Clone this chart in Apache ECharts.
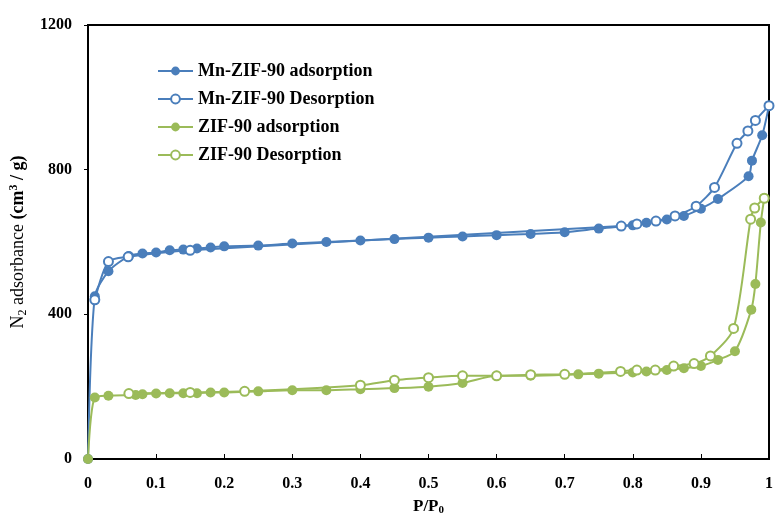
<!DOCTYPE html>
<html>
<head>
<meta charset="utf-8">
<script src="https://cdn.jsdelivr.net/npm/echarts@6/dist/echarts.min.js"></script>
<style>
  html, body { margin: 0; padding: 0; background: #fff; }
  #chart { width: 776px; height: 521px; }
</style>
</head>
<body>
<div id="chart"></div>
<script>
// N2 isotherms: relative pressure P/P0 and uptake (cm3/g)
const mnAdsP = [0, 0.01, 0.03, 0.06, 0.08, 0.10, 0.12, 0.14, 0.16, 0.18, 0.20, 0.25, 0.30, 0.35, 0.40, 0.45, 0.50, 0.55, 0.60, 0.65, 0.70, 0.75, 0.80, 0.82, 0.85, 0.875, 0.90, 0.925, 0.97, 0.975, 0.99, 1.0];
const mnAdsV = [0, 450, 519, 561, 568, 571, 577, 579, 582, 585, 588, 590, 596, 600, 604, 608, 612, 615, 619, 622, 627, 637, 646, 653, 662, 672, 692, 719, 782, 825, 895, 977];

const mnDesP = [1.0, 0.98, 0.969, 0.953, 0.92, 0.893, 0.862, 0.834, 0.806, 0.783, 0.15, 0.059, 0.03, 0.01];
const mnDesV = [977, 936, 907, 873, 751, 699, 672, 658, 650, 644, 577, 559, 546, 440];

const zifAdsP = [0, 0.01, 0.03, 0.07, 0.08, 0.10, 0.12, 0.14, 0.16, 0.18, 0.20, 0.25, 0.30, 0.35, 0.40, 0.45, 0.50, 0.55, 0.60, 0.65, 0.72, 0.75, 0.80, 0.82, 0.85, 0.875, 0.90, 0.925, 0.95, 0.974, 0.98, 0.988, 0.993];
const zifAdsV = [0, 170, 175, 177, 179, 181, 182, 182, 182, 184, 184, 187, 190, 190, 193, 196, 200, 210, 230, 230, 234, 236, 239, 242, 246, 251, 257, 274, 298, 413, 484, 654, 721];

const zifDesP = [0.993, 0.979, 0.973, 0.948, 0.914, 0.89, 0.86, 0.833, 0.806, 0.782, 0.70, 0.65, 0.60, 0.55, 0.50, 0.45, 0.40, 0.23, 0.15, 0.06];
const zifDesV = [721, 694, 663, 361, 285, 264, 257, 246, 246, 242, 234, 233, 230, 230, 225, 218, 204, 187, 184, 181];

const seriesNames = ['Mn-ZIF-90 adsorption', 'Mn-ZIF-90 Desorption', 'ZIF-90 adsorption', 'ZIF-90 Desorption'];

const BLUE = '#4a7ebb';
const GREEN = '#9bbb59';
const FONT = 'Liberation Serif';

function pairs(xs, ys) { return xs.map((x, i) => [x, ys[i]]); }

function lineSeries(name, xs, ys, color, open) {
  return {
    name: name,
    type: 'line',
    data: pairs(xs, ys),
    smooth: 0.25,
    symbol: open ? 'emptyCircle' : 'circle',
    symbolSize: open ? 9 : 10,
    lineStyle: { color: color, width: 2 },
    itemStyle: open ? { color: color, borderColor: color, borderWidth: 1.5 } : { color: color },
    z: open ? 3 : 2
  };
}

const chart = echarts.init(document.getElementById('chart'), null, { renderer: 'canvas' });
chart.setOption({
  animation: false,
  backgroundColor: '#fff',
  grid: {
    left: 86, right: 1, top: 25, bottom: 59,
    show: true, borderColor: '#000', borderWidth: 2, backgroundColor: 'transparent'
  },
  legend: {
    orient: 'vertical',
    left: 152, top: 57,
    itemWidth: 35, itemHeight: 11, itemGap: 10,
    data: seriesNames,
    textStyle: { fontFamily: FONT, fontWeight: 'bold', fontSize: 18, color: '#000' }
  },
  xAxis: {
    type: 'value', min: 0, max: 1, interval: 0.1,
    name: '{b|P/P}{s|0}',
    nameLocation: 'middle', nameGap: 38,
    nameTextStyle: {
      rich: {
        b: { fontFamily: FONT, fontWeight: 'bold', fontSize: 17, color: '#000' },
        s: { fontFamily: FONT, fontWeight: 'bold', fontSize: 11, color: '#000', verticalAlign: 'bottom', padding: [8, 0, 0, 0] }
      }
    },
    axisLine: { show: true, lineStyle: { color: '#000', width: 2 } },
    axisTick: { show: true, inside: true, length: 5, lineStyle: { color: '#000', width: 1 } },
    axisLabel: { margin: 17, fontFamily: FONT, fontWeight: 'bold', fontSize: 16, color: '#000' },
    splitLine: { show: false }
  },
  yAxis: {
    type: 'value', min: 0, max: 1200, interval: 400,
    name: '{n|N}{s|2}{n| adsorbance }{b|(cm}{p|3}{b| / g)}',
    nameLocation: 'middle', nameGap: 59,
    nameTextStyle: {
      rich: {
        n: { fontFamily: FONT, fontSize: 18, color: '#000' },
        s: { fontFamily: FONT, fontSize: 12, color: '#000', verticalAlign: 'bottom', padding: [9, 0, 0, 0] },
        b: { fontFamily: FONT, fontWeight: 'bold', fontSize: 18, color: '#000' },
        p: { fontFamily: FONT, fontWeight: 'bold', fontSize: 12, color: '#000', verticalAlign: 'top', padding: [0, 0, 7, 0] }
      }
    },
    axisLine: { show: true, lineStyle: { color: '#000', width: 2 } },
    axisTick: { show: true, inside: false, length: 4, lineStyle: { color: '#000', width: 1 } },
    axisLabel: {
      margin: 16, fontFamily: FONT, fontWeight: 'bold', fontSize: 16, color: '#000',
      formatter: (v) => String(v)
    },
    splitLine: { show: false }
  },
  series: [
    lineSeries(seriesNames[0], mnAdsP, mnAdsV, BLUE, false),
    lineSeries(seriesNames[1], mnDesP, mnDesV, BLUE, true),
    lineSeries(seriesNames[2], zifAdsP, zifAdsV, GREEN, false),
    lineSeries(seriesNames[3], zifDesP, zifDesV, GREEN, true)
  ]
});
</script>
</body>
</html>
